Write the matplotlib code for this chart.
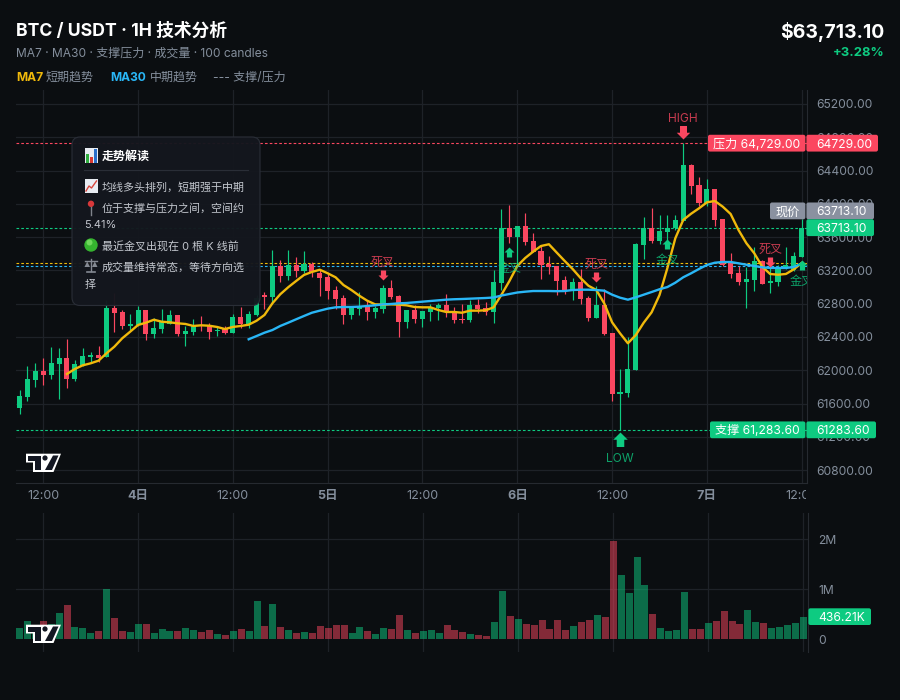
import numpy as np
import matplotlib
matplotlib.use("Agg")
import matplotlib.pyplot as plt
from matplotlib.patches import Circle, FancyBboxPatch, Polygon, Rectangle
from matplotlib.lines import Line2D
from matplotlib.path import Path
from matplotlib.transforms import Affine2D, Bbox, IdentityTransform

plt.rcParams['font.family'] = ['Inter', 'Noto Sans CJK SC', 'DejaVu Sans']

# 100 x 1H candles
opens = [61545, 61678, 61882, 61990, 61942, 62074, 62147, 61894, 62050, 62159,
         62183, 62159, 62748, 62700, 62531, 62543, 62724, 62435, 62495, 62555,
         62664, 62435, 62459, 62543, 62531, 62467, 62495, 62447, 62639, 62555,
         62664, 62904, 62880, 63253, 63132, 63265, 63192, 63277, 63168, 63120,
         62964, 62868, 62664, 62736, 62760, 62700, 62736, 62988, 62892, 62579,
         62724, 62615, 62700, 62748, 62784, 62712, 62615, 62603, 62784, 62748,
         62700, 63048, 63709, 63601, 63733, 63553, 63433, 63276, 63252, 63084,
         62964, 63060, 62868, 62627, 62784, 62447, 61714, 61726, 62002, 63505,
         63705, 63553, 63661, 63709, 63794, 64467, 64226, 64010, 64178, 63818,
         63301, 63168, 63060, 63084, 63313, 63048, 63060, 63213, 63204, 63361]
highs = [61762, 62050, 62086, 62147, 62279, 62267, 62375, 62122, 62267, 62219,
         62291, 62844, 62928, 62724, 62676, 62772, 62724, 62628, 62736, 62724,
         62664, 62531, 62615, 62651, 62567, 62531, 62531, 62676, 62760, 62712,
         62904, 62940, 63445, 63325, 63445, 63361, 63433, 63301, 63204, 63156,
         63012, 62904, 62760, 62940, 62844, 62772, 63024, 63084, 62904, 62724,
         62784, 62712, 62796, 62808, 62916, 62760, 62796, 62844, 62856, 62820,
         63204, 63938, 63986, 63733, 63890, 63649, 63493, 63373, 63252, 63132,
         63108, 63216, 62892, 63012, 62976, 62447, 62014, 62399, 63529, 63841,
         63950, 63865, 63866, 63866, 64729, 64479, 64323, 64298, 64178, 63818,
         63405, 63253, 63241, 63481, 63325, 63245, 63265, 63481, 63421, 63818]
lows = [61473, 61630, 61798, 61822, 61894, 61654, 61786, 61870, 62050, 62083,
        62103, 62159, 62459, 62495, 62483, 62531, 62363, 62387, 62447, 62555,
        62411, 62291, 62423, 62471, 62375, 62411, 62435, 62447, 62507, 62507,
        62652, 62736, 62796, 63060, 63084, 63120, 63168, 63120, 62892, 62856,
        62736, 62555, 62615, 62664, 62603, 62627, 62688, 62856, 62399, 62507,
        62567, 62519, 62591, 62603, 62639, 62567, 62567, 62579, 62688, 62663,
        62567, 62964, 63529, 63253, 63505, 63421, 63096, 63156, 62904, 62916,
        62844, 62796, 62591, 62627, 62423, 61630, 61283.6, 61678, 62002, 63337,
        63529, 63517, 63525, 63690, 63794, 64118, 63974, 63974, 63734, 63253,
        63104, 63024, 62748, 62952, 63036, 62928, 63012, 63213, 63192, 63361]
closes = [61690, 61894, 61990, 61942, 62086, 62147, 61894, 62074, 62171, 62183,
          62147, 62748, 62688, 62531, 62555, 62724, 62435, 62507, 62591, 62664,
          62435, 62471, 62531, 62531, 62459, 62483, 62447, 62639, 62555, 62676,
          62868, 62880, 63253, 63132, 63265, 63192, 63277, 63180, 63108, 62952,
          62856, 62664, 62760, 62772, 62700, 62748, 62988, 62880, 62579, 62724,
          62615, 62712, 62748, 62784, 62712, 62603, 62607, 62784, 62736, 62700,
          63060, 63709, 63601, 63733, 63541, 63421, 63264, 63240, 63072, 62964,
          63060, 62856, 62627, 62784, 62435, 61714, 61738, 62014, 63517, 63705,
          63553, 63673, 63709, 63806, 64467, 64214, 64010, 64178, 63806, 63265,
          63156, 63060, 63096, 63313, 63036, 63072, 63217, 63261, 63373, 63713.1]
# volume in millions
volumes = [0.22, 0.36, 0.25, 0.36, 0.31, 0.52, 0.68, 0.24, 0.22, 0.12,
           0.16, 1.00, 0.42, 0.16, 0.14, 0.30, 0.30, 0.12, 0.20, 0.16,
           0.16, 0.22, 0.18, 0.14, 0.18, 0.10, 0.08, 0.16, 0.20, 0.16,
           0.76, 0.26, 0.70, 0.24, 0.18, 0.12, 0.14, 0.12, 0.26, 0.22,
           0.28, 0.28, 0.12, 0.24, 0.16, 0.10, 0.22, 0.20, 0.48, 0.18,
           0.12, 0.16, 0.18, 0.12, 0.28, 0.18, 0.14, 0.10, 0.08, 0.06,
           0.34, 0.96, 0.46, 0.40, 0.30, 0.28, 0.38, 0.20, 0.38, 0.18,
           0.26, 0.34, 0.38, 0.48, 0.44, 1.96, 1.28, 0.92, 1.64, 1.08,
           0.50, 0.22, 0.16, 0.18, 0.94, 0.20, 0.20, 0.32, 0.36, 0.56,
           0.36, 0.30, 0.58, 0.34, 0.32, 0.22, 0.24, 0.28, 0.32, 0.43621]

ma7_start = 6
ma7 = [61955, 62015, 62059, 62083,
       62115, 62203, 62283, 62384, 62463, 62544, 62571, 62607, 62583, 62576,
       62564, 62556, 62532, 62540, 62535, 62520, 62495, 62520, 62532, 62547,
       62595, 62664, 62804, 62913, 62997, 63072, 63145, 63181, 63208, 63165,
       63117, 63024, 62964, 62896, 62836, 62792, 62788, 62792, 62788, 62780,
       62760, 62756, 62756, 62724, 62700, 62700, 62691, 62716, 62716, 62720,
       62756, 62908, 63072, 63253, 63349, 63425, 63493, 63514, 63413, 63313,
       63217, 63109, 63016, 62964, 62804, 62576, 62444, 62324, 62423, 62571,
       62696, 62904, 63229, 63586, 63806, 63881, 63946, 64018, 64034, 63966,
       63878, 63685, 63526, 63405, 63244, 63157, 63148, 63157, 63213, 63289]
ma30_start = 29
ma30 = [62372,
        62411, 62451, 62483, 62532, 62571, 62612, 62652, 62691, 62716, 62740,
        62756, 62760, 62760, 62764, 62772, 62780, 62792, 62796, 62804, 62808,
        62816, 62824, 62832, 62840, 62848, 62853, 62856, 62860, 62864, 62868,
        62874, 62898, 62916, 62934, 62944, 62952, 62952, 62952, 62950, 62952,
        62964, 62968, 62968, 62964, 62956, 62908, 62872, 62848, 62876, 62908,
        62940, 62973, 63000, 63052, 63117, 63165, 63217, 63265, 63292, 63301,
        63301, 63285, 63268, 63253, 63237, 63229, 63229, 63229, 63241, 63283]

resistance = 64729.00
support = 61283.60
last_price = 63713.10
ma7_level = 63285
ma30_level = 63249

price_ticks = [65200, 64800, 64400, 64000, 63600, 63200, 62800, 62400, 62000, 61600, 61200, 60800]
volume_ticks = [0, 1, 2]
volume_tick_labels = ['0', '1M', '2M']
time_ticks = [3, 15, 27, 39, 51, 63, 75, 87, 99]
time_labels = ['12:00', '4日', '12:00', '5日', '12:00', '6日', '12:00', '7日', '12:00']

# crossing signals: candle index and the price the arrow tip points at
death_idx = [46, 73, 95]
death_tip = [63084, 63064, 63244]
golden_idx = [62, 82, 99]
golden_tip = [63485, 63574, 63325]
high_idx = 84
high_tip = 64775
low_idx = 76
low_tip = 61260

tooltip_lines = [
    (102, 186, '均线多头排列，短期强于中期'),
    (102, 207.5, '位于支撑与压力之间，空间约'),
    (84.5, 224.5, '5.41%'),
    (102, 245, '最近金叉出现在 0 根 K 线前'),
    (102, 266, '成交量维持常态，等待方向选'),
    (84.5, 283.5, '择'),
]

BG = '#0b0e11'
GRID = '#1e2228'
GREEN = '#0ecb81'
RED = '#fb4760'
YELLOW = '#f0b90b'
BLUE = '#29b6f6'
MUTED = '#848e9c'
TAG_GREY = '#8a91a0'

WIDTH, HEIGHT = 900, 700
fig = plt.figure(figsize=(WIDTH / 100, HEIGHT / 100), dpi=100, facecolor=BG)


def pane(left, top, right, bottom):
    return fig.add_axes([left / WIDTH, 1 - bottom / HEIGHT,
                         (right - left) / WIDTH, (bottom - top) / HEIGHT], facecolor=BG)


def pt(px):
    return px * 0.72


def label(x, y, s, size, color='white', weight='normal', ha='left', zorder=3, **kw):
    # text placed in screen pixels, y counted from the top
    return fig.text(x, HEIGHT - y, s, fontsize=pt(size), color=color, fontweight=weight,
                    ha=ha, va='center_baseline', transform=IdentityTransform(), zorder=zorder, **kw)


def shape(artist, zorder=2):
    artist.set_transform(IdentityTransform())
    artist.set_zorder(zorder)
    fig.add_artist(artist)
    return artist


def flip(points, ox=0, oy=0):
    return [(ox + x, HEIGHT - (oy + y)) for x, y in points]


def box(x0, y0, x1, y1, color, radius=2, zorder=2):
    return shape(FancyBboxPatch((x0, HEIGHT - y1), x1 - x0, y1 - y0,
                                boxstyle=f'round,pad=0,rounding_size={radius}',
                                facecolor=color, edgecolor='none'), zorder)


def arrow_marker(direction):
    # tip sits on the marker origin so the data point is where the arrow points
    d = direction
    return Path([(0, 0), (0.5, d * 0.5), (0.26, d * 0.5), (0.26, d * 1.0),
                 (-0.26, d * 1.0), (-0.26, d * 0.5), (-0.5, d * 0.5), (0, 0)], closed=True)


def logo(ox, oy):
    shape(Polygon(flip([(0, 0.7), (35, 0.7), (27.5, 19), (7, 19), (7, 9.5), (0, 9.5)], ox, oy),
                  facecolor='white', edgecolor='none'), 4)
    shape(Polygon(flip([(2, 2.5), (14.5, 2.5), (14.5, 17), (9, 17), (9, 7.5), (2, 7.5)], ox, oy),
                  facecolor='#131722', edgecolor='none'), 5)
    shape(Polygon(flip([(27, 2.5), (32.5, 2.5), (26, 17), (19, 17)], ox, oy),
                  facecolor='#131722', edgecolor='none'), 5)
    shape(Circle((ox + 19, HEIGHT - (oy + 5)), 2.6, facecolor='#131722', edgecolor='none'), 5)


ax = pane(16, 90, 806.7, 483)
vol = pane(16, 513, 808.3, 652)

x = np.arange(len(closes))
o, h, l, c = map(np.array, (opens, highs, lows, closes))
up = c >= o
colors = [GREEN if u else RED for u in up]

for a in (ax, vol):
    a.set_xlim(-0.45, 99.63)
    a.set_axisbelow(True)
    a.yaxis.tick_right()
    a.set_xticks(time_ticks)
    a.grid(True, color=GRID, linewidth=0.9)
    a.tick_params(length=0, colors=MUTED, labelsize=pt(12.1))
    a.tick_params(axis='y', pad=pt(9.5))
    for side in ('left', 'top'):
        a.spines[side].set_visible(False)
    a.spines['right'].set_color('#262a30')
    a.spines['bottom'].set_color('#262a30')
vol.spines['bottom'].set_visible(False)

# price pane
ax.set_ylim(60644.6, 65368)
ax.set_yticks(price_ticks)
ax.set_yticklabels([f'{p:.2f}' for p in price_ticks])
ax.set_xticklabels(time_labels)
vol.set_xticklabels([])
edge = Bbox([[0, 0], [806.3, HEIGHT]])
for lab, txt in zip(ax.get_xticklabels(), time_labels):
    lab.set_clip_box(edge)
    lab.set_clip_on(True)
    lab.set_fontsize(pt(12.5))
    if txt.endswith('日'):
        lab.set_fontweight('bold')
ax.tick_params(axis='x', pad=pt(7))

dash = (0, (2.4, 1.9))
ax.axhline(resistance, color=RED, lw=0.8, ls=dash, zorder=1.5)
ax.axhline(last_price, color=GREEN, lw=0.8, ls=dash, zorder=1.5)
ax.axhline(support, color=GREEN, lw=0.8, ls=dash, zorder=1.5)
ax.axhline(ma7_level, color=YELLOW, lw=0.8, ls=dash, zorder=1.5)
ax.axhline(ma30_level, color=BLUE, lw=0.8, ls=dash, zorder=1.5)

ax.vlines(x, l, h, colors=colors, linewidth=0.85, zorder=2)
ax.bar(x, c - o, bottom=o, width=0.64, color=colors, linewidth=0, zorder=2.5)

ax.plot(np.arange(ma7_start, len(closes)), ma7, color=YELLOW, lw=1.7, zorder=3,
        solid_joinstyle='round')
ax.plot(np.arange(ma30_start, len(closes)), ma30, color=BLUE, lw=1.7, zorder=3.1,
        solid_joinstyle='round')


def signal(idx, tip, direction, size, text, color, offset, fontsize):
    ax.plot([idx], [tip], marker=arrow_marker(direction), ms=pt(size) * 2, color=color,
            mec='none', ls='none', zorder=4, clip_on=True)
    ax.annotate(text, (idx, tip), xytext=(0, offset), textcoords='offset pixels', ha='center',
                va='center_baseline', color=color, fontsize=pt(fontsize), alpha=0.78, zorder=4.1,
                annotation_clip=True, clip_on=True)


for i, p in zip(death_idx, death_tip):
    signal(i, p, 1, 10, '死叉', RED, 18.5, 12)
for i, p in zip(golden_idx, golden_tip):
    signal(i, p, -1, 10, '金叉', GREEN, -20.5, 12)
signal(high_idx, high_tip, 1, 13.5, 'HIGH', RED, 22, 12)
signal(low_idx, low_tip, -1, 14.5, 'LOW', GREEN, -26, 12)

# volume pane
vol.set_ylim(-0.26, 2.52)
vol.set_yticks(volume_ticks)
vol.set_yticklabels(volume_tick_labels)
zero_label = vol.get_yticklabels()[0]
zero_label.set_transform(zero_label.get_transform() + Affine2D().translate(0, 2))
vol.yaxis.get_major_ticks()[0].gridline.set_visible(False)
vol.tick_params(axis='y', pad=pt(10))
vol.bar(x, volumes, width=0.88, color=colors, alpha=0.5, linewidth=0, zorder=2)


# tags on the right of the price scale
def price_tag(price, left_text, color, left_x, right_x, dy=0, size=12.1):
    yp = HEIGHT - ax.transData.transform((0, price))[1] + dy
    top, bottom = yp - 8.4, yp + 8.4
    if left_text:
        box(left_x, top, 805.4, bottom, color)
        label((left_x + 805.4) / 2, yp, left_text, size, ha='center')
    box(806.4, top, right_x, bottom, color)
    label(816, yp, f'{price:.2f}', size)


price_tag(resistance, f'压力 {resistance:,.2f}', RED, 708, 878)
price_tag(last_price, '现价', TAG_GREY, 770, 874, dy=-16.8)
price_tag(last_price, '', GREEN, 0, 874)
price_tag(support, f'支撑 {support:,.2f}', GREEN, 710, 876)

box(808.4, 608.3, 871, 625, GREEN)
label(818, 616.6, f'{volumes[-1] * 1000:.2f}K', 12.1)

logo(26, 453)
logo(26, 624)

# header
label(16, 29, 'BTC / USDT · 1H 技术分析', 17.7, weight='bold')
label(16, 52, 'MA7 · MA30 · 支撑压力 · 成交量 · 100 candles', 12, MUTED)
label(16, 76.5, 'MA7', 12, YELLOW, 'bold')
label(46, 76.5, '短期趋势', 12, MUTED)
label(110, 76.5, 'MA30', 12, BLUE, 'bold')
label(150, 76.5, '中期趋势', 12, MUTED)
label(213, 76.5, '--- 支撑/压力', 12, MUTED)
label(884, 30, f'${last_price:,.2f}', 19.4, weight='bold', ha='right')
label(884, 52, '+3.28%', 13, GREEN, 'bold', ha='right')

# explanation card on top of the chart
card = 10
shape(FancyBboxPatch((72, HEIGHT - 305.5), 188, 168.5, boxstyle='round,pad=0,rounding_size=8',
                     facecolor=(0.078, 0.09, 0.118, 0.97), edgecolor='#2a2e37', linewidth=0.8), card)
shape(Line2D([84, 248], [HEIGHT - 170.3] * 2, color='#2a2e37', lw=0.8), card + 1)
label(102, 155.5, '走势解读', 12, weight='bold', zorder=card + 2)
for tx, ty, s in tooltip_lines:
    label(tx, ty, s, 11, '#c3c7ce', zorder=card + 2)

# icon: bar chart
shape(Rectangle((85, HEIGHT - 162.5), 12.7, 14.5, facecolor='#e8ecf2', edgecolor='none'), card + 1)
for bx, bt, col in ((85.8, 154, '#2fae3f'), (89.8, 157, '#d93a32'), (93.8, 149, '#2a6fc9')):
    shape(Rectangle((bx, HEIGHT - 162.5), 3.2, 162.5 - bt, facecolor=col, edgecolor='none'), card + 2)
# icon: rising line
shape(Rectangle((85, HEIGHT - 193), 12.5, 14, facecolor='#e8ecf2', edgecolor='none'), card + 1)
shape(Line2D([86, 89, 91.5, 96.5], [HEIGHT - y for y in (191, 186, 188, 181)], color='#d8453c', lw=1),
      card + 2)
# icon: pin
shape(Line2D([91, 91], [HEIGHT - 204, HEIGHT - 215], color='#80848c', lw=1), card + 1)
shape(Circle((91, HEIGHT - 203.8), 3.2, facecolor='#d8383a', edgecolor='none'), card + 2)
# icon: green dot
shape(Circle((91, HEIGHT - 245), 6.7, facecolor='#35b32f', edgecolor='none'), card + 1)
shape(Circle((89.5, HEIGHT - 242.5), 3, facecolor='#6fd65c', edgecolor='none'), card + 1)
# icon: balance
grey = '#858a93'
shape(Line2D([91, 91], [HEIGHT - 259, HEIGHT - 271], color=grey, lw=1), card + 1)
shape(Line2D([85, 97], [HEIGHT - 261, HEIGHT - 261], color=grey, lw=1), card + 1)
shape(Line2D([87, 95], [HEIGHT - 272, HEIGHT - 272], color=grey, lw=1.2), card + 1)
shape(Polygon(flip([(84.5, 267), (90, 267), (87.2, 261.5)]), facecolor=grey, edgecolor='none'), card + 1)
shape(Polygon(flip([(92, 267), (97.5, 267), (94.8, 261.5)]), facecolor=grey, edgecolor='none'), card + 1)

fig.savefig('out.png', dpi=100, facecolor=BG)
